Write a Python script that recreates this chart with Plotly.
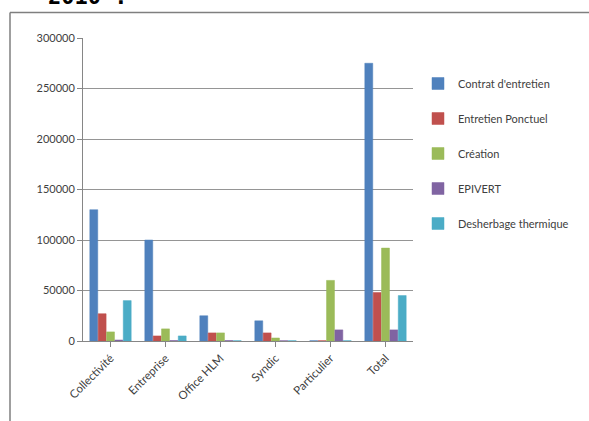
import plotly.graph_objects as go

categories = ["Collectivité", "Entreprise", "Office HLM", "Syndic", "Particulier", "Total"]
series_names = ["Contrat d'entretien", "Entretien Ponctuel", "Création", "EPIVERT", "Desherbage thermique"]
contrat = [130000, 100000, 25000, 20000, 300, 275000]
ponctuel = [27000, 5000, 8000, 8000, 300, 48000]
creation = [9000, 12000, 8000, 3000, 60000, 92000]
epivert = [1000, 500, 500, 300, 11000, 11000]
desherbage = [40000, 5000, 300, 300, 300, 45000]
y_ticks = [0, 50000, 100000, 150000, 200000, 250000, 300000]

colors = ["#4F81BD", "#C0504D", "#9BBB59", "#8064A2", "#4BACC6"]
values = [contrat, ponctuel, creation, epivert, desherbage]

W, H = 589, 421
L, R, T, B = 83, 176, 38, 80
pw, ph = W - L - R, H - T - B

def px_x(x):
    return (x - L) / pw

def px_y(y):
    return (H - B - y) / ph

fig = go.Figure()
for name, vals, col in zip(series_names, values, colors):
    fig.add_trace(go.Bar(
        x=categories, y=vals, name=name, legendgroup=name,
        marker=dict(color=col, line=dict(color=col, width=0.5)),
    ))

fig.update_layout(
    width=W, height=H,
    margin=dict(l=L, r=R, t=T, b=B),
    paper_bgcolor="white", plot_bgcolor="white",
    barmode="group", bargap=0.24, bargroupgap=0.05,
    font=dict(family="Lato, 'Open Sans', sans-serif", size=11, color="#404040"),
    legend=dict(
        x=px_x(418), y=px_y(69), xanchor="left", yanchor="top",
        tracegroupgap=16, font=dict(size=11, color="#404040"),
        itemwidth=30, bgcolor="rgba(0,0,0,0)",
    ),
    showlegend=True,
)
fig.update_xaxes(
    tickangle=-45, showline=True, linecolor="#868686", linewidth=1,
    ticks="outside", ticklen=5, tickcolor="#868686",
    tickfont=dict(size=11.5, color="#404040"),
)
fig.update_yaxes(
    range=[0, 300000], tickvals=y_ticks, ticktext=[str(v) for v in y_ticks],
    showgrid=True, gridcolor="#959595", gridwidth=1,
    showline=True, linecolor="#868686", linewidth=1,
    ticks="outside", ticklen=5, tickcolor="#868686",
    tickfont=dict(size=11, color="#404040"), zeroline=False,
)

# outer chart frame (partially visible)
fig.add_shape(type="line", xref="paper", yref="paper",
              x0=px_x(10), x1=px_x(589), y0=px_y(12.5), y1=px_y(12.5),
              line=dict(color="#7f7f7f", width=1.5))
fig.add_shape(type="line", xref="paper", yref="paper",
              x0=px_x(10), x1=px_x(10), y0=px_y(12.5), y1=px_y(421),
              line=dict(color="#7f7f7f", width=1.5))

# cut-off heading above the chart
fig.add_annotation(text="<b>2010 :</b>", xref="paper", yref="paper",
                   x=px_x(46), y=px_y(11), xanchor="left", yanchor="bottom",
                   showarrow=False,
                   font=dict(family="DejaVu Sans Mono", size=22, color="black"))

fig.write_html("out.html", config={"displayModeBar": False},
               post_script="document.body.style.margin='0';document.body.style.overflow='hidden';")
